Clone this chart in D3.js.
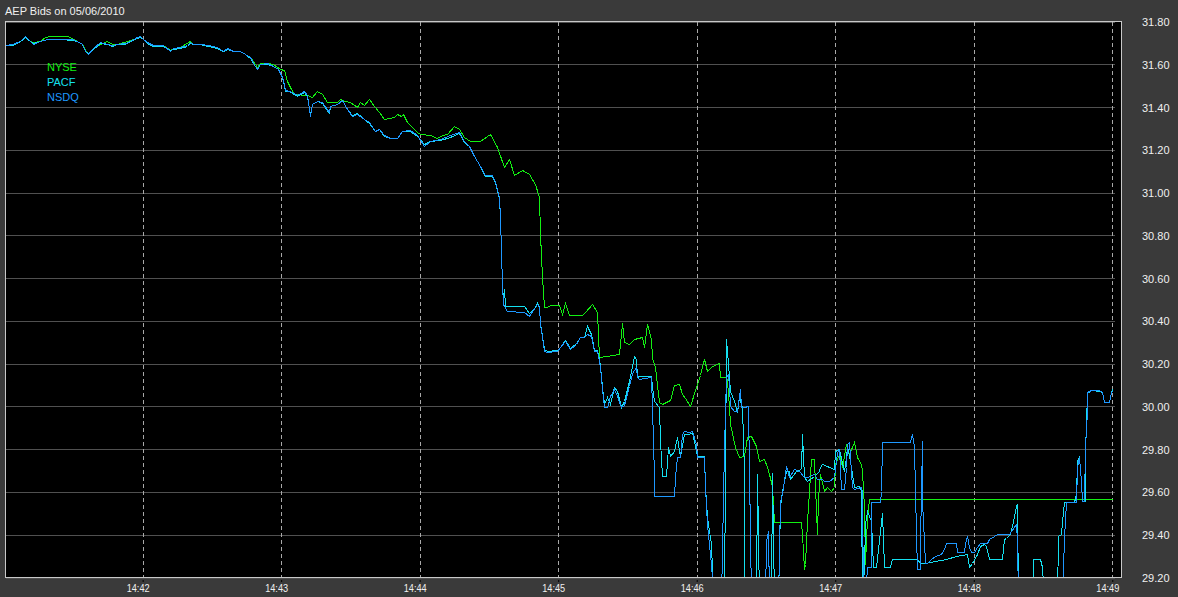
<!DOCTYPE html>
<html><head><meta charset="utf-8">
<script src="https://cdn.jsdelivr.net/npm/d3@7"></script>
<style>
html,body{margin:0;padding:0;background:#3a3a3a;}
svg{display:block;}
text{font-family:"Liberation Sans",Arial,sans-serif;}
</style></head><body>
<svg id="chart" width="1178" height="597"></svg>
<script>
// ---------------- data ----------------
const chartTitle = "AEP Bids on 05/06/2010";
const seriesNames = ["NYSE", "PACF", "NSDQ"];
const yTickValues = [29.2, 29.4, 29.6, 29.8, 30.0, 30.2, 30.4, 30.6, 30.8, 31.0, 31.2, 31.4, 31.6, 31.8];
const xTickLabels = ["14:42", "14:43", "14:44", "14:45", "14:46", "14:47", "14:48", "14:49"];
const xDomainLabels = ["14:41:00.6", "14:49:04"];
const yDomain = [29.2, 31.8];
// [seconds after 14:41:00, bid price]
const nyse = [
[0.9,31.692],[3.5,31.697],[7.0,31.711],[9.2,31.730],[11.4,31.711],[12.7,31.702],[15.7,31.711],[17.8,31.727],[20.0,31.730],[27.4,31.730],[29.6,31.725],[31.7,31.711],[33.9,31.697],[35.2,31.669],[36.5,31.655],[38.7,31.678],[41.7,31.696],[44.7,31.711],[46.9,31.697],[49.1,31.697],[53.4,31.711],[56.0,31.720],[59.0,31.730],[60.3,31.720],[62.1,31.706],[64.7,31.692],[69.0,31.688],[72.0,31.669],[73.3,31.674],[76.4,31.680],[80.7,31.711],[82.0,31.697],[85.0,31.696],[88.1,31.688],[92.4,31.680],[95.0,31.664],[96.7,31.674],[99.3,31.664],[102.3,31.664],[104.5,31.649],[106.7,31.636],[108.8,31.599],[109.7,31.585],[111.0,31.605],[114.0,31.608],[116.6,31.599],[119.7,31.579],
[121.1,31.571],[122.6,31.524],[124.0,31.493],[125.4,31.462],[131.2,31.454],[133.4,31.446],[135.6,31.474],[137.7,31.462],[139.9,31.422],[144.2,31.422],[145.7,31.438],[147.1,31.427],[150.0,31.422],[152.9,31.399],[154.3,31.422],[155.8,31.410],[157.9,31.438],[160.1,31.407],[162.3,31.376],[164.4,31.345],[168.7,31.352],[170.2,31.368],[171.7,31.356],[172.8,31.368],[174.6,31.329],[176.7,31.306],[178.9,31.282],[180.3,31.275],[184.6,31.271],[187.6,31.256],[189.7,31.267],[191.9,31.275],[194.7,31.313],[196.9,31.298],[199.1,31.259],[202.0,31.240],[206.3,31.239],[210.6,31.275],[213.5,31.212],[216.4,31.118],[218.6,31.158],[220.7,31.080],[224.4,31.106],[227.2,31.088],[230.1,31.041],[231.6,30.978],[232.3,30.807],[233.0,30.604],[233.7,30.463],[235.2,30.463],[236.6,30.475],[240.2,30.476],[241.7,30.432],[243.1,30.482],[244.6,30.429],[250.4,30.429],[251.8,30.440],[254.7,30.479],[256.9,30.440],[257.6,30.229],[261.2,30.237],[266.2,30.245],[267.7,30.390],[268.4,30.300],[270.6,30.292],[272.7,30.316],[276.4,30.323],[277.1,30.276],[278.5,30.386],[280.0,30.317],[280.7,30.226],[282.1,30.183],[283.6,30.019],[285.0,30.013],[288.6,30.032],[290.1,30.101],[292.2,30.105],[293.7,30.058],[295.1,30.041],[297.3,30.003],[299.5,30.092],[301.6,30.146],[303.1,30.222],[304.5,30.167],[306.7,30.191],[309.6,30.202],[310.3,30.136],[312.5,30.136],[313.2,30.120],[313.9,29.996],[314.6,29.918],[316.8,29.808],[318.2,29.762],[320.4,29.770],[321.9,29.855],[323.3,29.863],[325.5,29.816],[326.9,29.746],[329.1,29.754],[330.5,29.715],[331.2,29.684],[332.7,29.629],[333.4,29.458],[345.0,29.458],[345.7,29.403],[346.4,29.240],[347.1,29.263],[347.9,29.466],[348.6,29.606],[349.3,29.754],[350.7,29.754],[351.5,29.512],[351.9,29.403],[352.5,29.574],[353.6,29.684],[355.1,29.606],[356.5,29.621],[358.0,29.606],[359.4,29.621],[360.1,29.731],[361.6,29.778],[363.0,29.715],[364.5,29.824],[365.9,29.778],[368.1,29.832],[369.5,29.762],[371.0,29.731],[371.7,29.699],[372.4,29.528],[373.1,29.263],[373.9,29.481],[374.6,29.567],[479.9,29.567]
];
const pacf = [
[0.9,31.688],[3.5,31.692],[7.0,31.708],[9.2,31.727],[11.4,31.708],[12.7,31.699],[15.7,31.708],[18.7,31.718],[24.4,31.718],[29.6,31.713],[31.7,31.708],[33.9,31.694],[35.2,31.661],[36.5,31.652],[38.7,31.671],[41.7,31.699],[44.7,31.694],[46.9,31.685],[49.1,31.694],[52.5,31.696],[54.7,31.708],[57.7,31.725],[59.0,31.727],[60.3,31.718],[62.1,31.699],[64.7,31.685],[69.0,31.685],[72.0,31.666],[73.3,31.671],[76.4,31.678],[79.4,31.685],[80.7,31.699],[82.0,31.694],[85.0,31.694],[88.1,31.685],[92.4,31.678],[95.0,31.661],[96.7,31.671],[99.3,31.661],[102.3,31.661],[104.5,31.646],[106.7,31.630],[108.8,31.592],[109.7,31.576],[111.0,31.599],[114.0,31.602],[116.6,31.592],[118.8,31.576],
[120.4,31.535],[121.1,31.505],[121.8,31.477],[123.3,31.474],[124.7,31.466],[126.9,31.451],[129.8,31.472],[131.2,31.451],[132.7,31.365],[133.4,31.412],[135.6,31.427],[137.7,31.419],[140.6,31.372],[141.3,31.404],[144.2,31.412],[146.4,31.431],[148.6,31.389],[150.7,31.365],[152.9,31.372],[155.8,31.342],[157.9,31.326],[160.8,31.287],[162.3,31.295],[164.4,31.264],[167.3,31.253],[170.2,31.253],[172.4,31.287],[176.0,31.290],[178.9,31.264],[181.7,31.225],[184.6,31.240],[189.0,31.248],[193.3,31.262],[196.9,31.279],[199.1,31.237],[201.2,31.217],[203.4,31.170],[206.3,31.123],[208.5,31.077],[211.4,31.077],[212.8,31.045],[214.2,30.975],[215.0,30.880],[215.3,30.725],[215.7,30.570],[216.1,30.500],[216.4,30.549],[217.1,30.471],[225.1,30.471],[227.2,30.435],[228.0,30.443],[230.1,30.466],[230.9,30.482],[231.6,30.466],[232.3,30.390],[233.0,30.330],[233.7,30.268],[235.2,30.260],[239.5,30.266],[241.0,30.280],[243.1,30.310],[245.3,30.274],[247.5,30.296],[249.6,30.326],[251.1,30.326],[252.5,30.378],[254.0,30.340],[255.4,30.266],[256.9,30.266],[257.6,30.220],[258.3,30.190],[259.0,30.090],[259.7,30.010],[261.2,30.042],[262.6,30.012],[264.1,30.089],[265.5,30.074],[267.0,29.999],[268.4,30.027],[270.6,30.120],[272.0,30.191],[272.7,30.237],[273.5,30.222],[274.2,30.136],[274.9,30.144],[280.0,30.144],[280.7,30.089],[281.4,30.027],[283.6,29.996],[284.3,29.840],[285.0,29.676],[286.5,29.676],[287.5,29.808],[288.6,29.770],[290.1,29.793],[291.5,29.855],[292.2,29.793],[292.9,29.770],[294.4,29.872],[296.6,29.872],[298.0,29.882],[299.5,29.793],[300.2,29.770],[303.1,29.770],[303.8,29.621],[304.5,29.481],[306.0,29.356],[306.7,29.232],[307.4,29.10],[312.0,29.10],[312.5,30.316],[312.9,30.316],[313.5,30.199],[314.6,30.074],[316.1,30.027],[317.5,29.972],[318.2,30.042],[318.9,30.027],[319.7,29.996],[320.4,29.699],[320.7,29.10],[325.7,29.10],[326.2,29.684],[326.8,29.10],[332.2,29.10],[332.7,29.691],[333.3,29.10],[335.0,29.10],[335.9,29.536],[337.0,29.606],[338.5,29.699],[339.9,29.699],[340.6,29.662],[342.8,29.699],[345.0,29.709],[345.7,29.871],[346.4,29.668],[347.9,29.653],[350.7,29.676],[352.8,29.699],[353.6,29.715],[354.4,29.731],[359.4,29.707],[360.1,29.793],[361.6,29.801],[363.0,29.737],[363.8,29.699],[364.5,29.762],[365.2,29.816],[366.6,29.746],[368.1,29.621],[370.2,29.629],[371.3,29.606],[371.7,29.10],[372.4,29.247],[373.1,29.450],[373.9,29.511],[375.3,29.466],[376.2,29.247],[377.5,29.247],[379.6,29.419],[380.3,29.503],[381.1,29.247],[383.9,29.247],[384.7,29.286],[395.5,29.286],[396.9,29.270],[399.1,29.270],[403.4,29.278],[407.8,29.286],[412.1,29.302],[417.2,29.310],[417.9,29.247],[419.3,29.270],[421.5,29.310],[422.9,29.349],[424.4,29.357],[425.5,29.349],[426.5,29.286],[432.3,29.286],[433.0,29.380],[433.8,29.387],[435.9,29.403],[437.1,29.466],[438.1,29.536],[438.8,29.542],[439.2,29.10],[445.3,29.10],[445.8,29.286],[448.9,29.286],[449.7,29.247],[450.4,29.10],[456.2,29.10],[456.4,29.395],[457.6,29.403],[458.3,29.466],[459.0,29.551],[463.4,29.551],[464.1,29.590],[464.8,29.746],[465.5,29.762],[466.3,29.653],[467.1,29.559],[468.0,29.559],[468.4,29.793],[469.2,30.064],[470.6,30.077],[474.9,30.074],[475.7,30.066],[476.4,30.019],[478.5,30.019],[479.3,30.066],[479.7,30.083]
];
const nsdq = [
[0.9,31.692],[3.5,31.697],[7.0,31.711],[9.2,31.730],[11.4,31.711],[12.7,31.697],[15.7,31.711],[18.7,31.720],[24.4,31.720],[29.6,31.716],[31.7,31.711],[33.9,31.697],[35.2,31.664],[36.5,31.650],[38.7,31.674],[41.7,31.703],[44.7,31.696],[46.9,31.688],[49.1,31.696],[52.5,31.698],[54.7,31.711],[57.7,31.727],[59.0,31.730],[60.3,31.720],[62.1,31.703],[64.7,31.688],[69.0,31.688],[72.0,31.664],[73.3,31.674],[76.4,31.680],[79.4,31.688],[80.7,31.703],[82.0,31.696],[85.0,31.696],[88.1,31.688],[92.4,31.680],[95.0,31.664],[96.7,31.674],[99.3,31.664],[102.3,31.664],[104.5,31.649],[106.7,31.633],[108.8,31.594],[109.7,31.579],[111.0,31.602],[114.0,31.605],[116.6,31.594],[118.8,31.579],
[120.4,31.539],[121.1,31.509],[121.8,31.480],[123.3,31.477],[124.7,31.469],[126.9,31.454],[129.8,31.474],[131.2,31.454],[132.7,31.360],[133.4,31.415],[135.6,31.430],[137.7,31.422],[140.6,31.376],[141.3,31.407],[144.2,31.415],[146.4,31.434],[148.6,31.392],[150.7,31.360],[152.9,31.368],[155.8,31.345],[157.9,31.329],[160.8,31.290],[162.3,31.298],[164.4,31.267],[167.3,31.256],[170.2,31.256],[172.4,31.290],[176.0,31.293],[178.9,31.267],[181.7,31.220],[184.6,31.243],[189.0,31.251],[193.3,31.267],[196.9,31.282],[199.1,31.243],[201.2,31.220],[203.4,31.173],[206.3,31.126],[208.5,31.080],[211.4,31.080],[212.8,31.048],[214.2,30.978],[215.0,30.884],[215.3,30.729],[215.7,30.573],[216.1,30.479],
[217.9,30.448],[225.1,30.443],[227.2,30.425],[228.0,30.432],[230.1,30.463],[230.9,30.479],[231.6,30.463],[232.3,30.386],[233.0,30.323],[233.7,30.261],[235.2,30.253],[239.5,30.261],[241.0,30.276],[243.1,30.308],[245.3,30.269],[247.5,30.292],[249.6,30.323],[251.1,30.323],[252.5,30.340],[254.0,30.331],[255.4,30.261],[256.9,30.261],[257.6,30.214],[258.3,30.183],[259.0,30.082],[259.7,29.999],[261.2,29.999],[262.6,30.050],[264.1,30.083],[265.5,30.050],[267.0,29.999],[268.4,30.008],[270.6,30.097],[272.0,30.158],[273.5,30.183],[274.2,30.136],[274.9,30.128],[280.0,30.136],[280.7,29.996],[281.4,29.668],[281.7,29.582],[290.1,29.582],[290.8,29.668],[291.5,29.762],[292.9,29.765],[293.7,29.871],[294.4,29.887],[296.6,29.879],[298.0,29.887],[299.5,29.824],[300.2,29.762],[303.1,29.762],[303.8,29.621],[304.5,29.450],[306.0,29.263],[306.7,29.194],[307.5,29.10],[310.7,29.10],[311.7,29.808],[312.5,30.136],[313.5,30.152],[313.9,30.089],[314.6,30.003],[316.1,29.980],[317.5,29.980],[318.7,30.082],[319.3,29.996],[320.4,29.996],[322.1,30.003],[322.6,29.699],[323.3,29.10],[329.4,29.10],[329.8,29.372],[330.7,29.419],[331.5,29.10],[335.4,29.10],[335.9,29.559],[337.0,29.590],[338.5,29.723],[339.9,29.668],[342.1,29.707],[344.2,29.699],[346.4,29.668],[347.9,29.668],[350.7,29.684],[352.2,29.661],[354.4,29.662],[355.1,29.653],[357.2,29.653],[359.4,29.668],[360.9,29.785],[361.6,29.801],[362.3,29.614],[363.8,29.614],[364.5,29.715],[365.2,29.824],[365.9,29.832],[366.6,29.762],[367.4,29.621],[368.1,29.614],[371.0,29.621],[371.7,29.606],[372.1,29.10],[373.1,29.10],[373.9,29.247],[375.3,29.247],[375.6,29.551],[379.6,29.551],[379.9,29.606],[380.3,29.832],[392.6,29.832],[393.3,29.871],[394.0,29.808],[394.8,29.403],[395.5,29.240],[396.6,29.240],[396.9,29.372],[397.4,29.840],[397.8,29.559],[398.4,29.372],[398.7,29.270],[399.9,29.270],[401.3,29.286],[403.4,29.302],[405.6,29.310],[407.0,29.333],[407.8,29.362],[412.1,29.362],[412.9,29.317],[415.7,29.317],[416.4,29.362],[417.2,29.395],[417.9,29.341],[418.6,29.317],[420.0,29.317],[421.5,29.341],[422.9,29.362],[425.8,29.362],[426.5,29.380],[428.7,29.395],[430.2,29.403],[435.2,29.403],[436.2,29.419],[438.1,29.450],[438.8,29.372],[439.1,29.10],[458.3,29.10],[459.0,29.387],[459.8,29.551],[464.1,29.551],[464.8,29.715],[465.5,29.762],[466.3,29.653],[467.0,29.559],[467.7,29.559],[468.4,29.808],[468.9,29.980],[469.2,30.066],[470.6,30.077],[474.2,30.077],[475.7,30.066],[476.4,30.019],[478.5,30.019],[479.3,30.066],[479.7,30.074]
];

// ---------------- drawing ----------------
const colors = {NYSE: "#12f012", PACF: "#14e0f0", NSDQ: "#1e98ff"};
const baseDay = [2010, 4, 6];
function atSec(s) { return new Date(baseDay[0], baseDay[1], baseDay[2], 14, 41, 0, Math.round(s * 1000)); }
function parseClock(str) {
  const p = str.split(":");
  const sec = p.length > 2 ? parseFloat(p[2]) : 0;
  return new Date(baseDay[0], baseDay[1], baseDay[2], +p[0], +p[1], 0, Math.round(sec * 1000));
}
const snap = v => Math.round(v) + 0.5;

const plot = {left: 5.5, top: 21.5, right: 1121.5, bottom: 577.5};
const svg = d3.select("#chart");

const x = d3.scaleTime().domain(xDomainLabels.map(parseClock)).range([plot.left, plot.right]);
const y = d3.scaleLinear().domain(yDomain).range([plot.bottom, plot.top]);

svg.append("rect").attr("x", 0).attr("y", 0).attr("width", 1178).attr("height", 597).attr("fill", "#3a3a3a");
svg.append("rect").attr("x", plot.left).attr("y", plot.top)
  .attr("width", plot.right - plot.left).attr("height", plot.bottom - plot.top).attr("fill", "#000");

// title
svg.append("text").attr("x", 5).attr("y", 15).attr("fill", "#f0f0f0")
  .style("font-size", "11px").text(chartTitle);

// horizontal grid
svg.append("g").selectAll("line").data(yTickValues).join("line")
  .attr("x1", plot.left).attr("x2", 1115)
  .attr("y1", d => snap(y(d))).attr("y2", d => snap(y(d)))
  .attr("stroke", "#505050").attr("stroke-width", 1).attr("shape-rendering", "crispEdges");

// vertical dashed grid
const xTicks = xTickLabels.map(parseClock);
svg.append("g").selectAll("line").data(xTicks).join("line")
  .attr("x1", d => snap(x(d))).attr("x2", d => snap(x(d)))
  .attr("y1", plot.top).attr("y2", plot.bottom)
  .attr("stroke", "#a8a8a8").attr("stroke-width", 1).attr("stroke-dasharray", "4,3")
  .attr("shape-rendering", "crispEdges");

// series
svg.append("clipPath").attr("id", "clip").append("rect")
  .attr("x", plot.left).attr("y", plot.top).attr("width", plot.right - plot.left).attr("height", plot.bottom - plot.top);
const line = d3.line().x(d => snap(x(atSec(d[0])))).y(d => snap(y(d[1])));
const seriesData = {NYSE: nyse, PACF: pacf, NSDQ: nsdq};
const lg = svg.append("g").attr("clip-path", "url(#clip)");
seriesNames.forEach(name => {
  lg.append("path").datum(seriesData[name]).attr("d", line)
    .attr("fill", "none").attr("stroke", colors[name]).attr("stroke-width", 1)
    .attr("stroke-linejoin", "miter").attr("shape-rendering", "crispEdges");
});

// legend
seriesNames.forEach((name, i) => {
  svg.append("text").attr("x", 47).attr("y", 71 + i * 15).attr("fill", colors[name])
    .style("font-size", "11px").text(name);
});

// border
svg.append("rect").attr("x", plot.left).attr("y", plot.top)
  .attr("width", plot.right - plot.left).attr("height", plot.bottom - plot.top)
  .attr("fill", "none").attr("stroke", "#c8c8c8").attr("stroke-width", 1).attr("shape-rendering", "crispEdges");

// x axis
const xAxis = d3.axisBottom(x).tickValues(xTicks).tickFormat(d3.timeFormat("%H:%M")).tickSize(0).tickPadding(0);
const xg = svg.append("g").attr("transform", `translate(0,${plot.bottom})`).call(xAxis);
xg.select(".domain").remove();
xg.selectAll(".tick text").attr("fill", "#f0f0f0").attr("dx", -5).attr("dy", 0).attr("y", 14)
  .style("font-size", "11px").attr("textLength", 23).attr("lengthAdjust", "spacingAndGlyphs")
  .style("font-family", "'Liberation Sans', Arial, sans-serif");
xg.selectAll(".tick").append("rect").attr("x", -0.5).attr("y", 2.5).attr("width", 1).attr("height", 2).attr("fill", "#000");

// y axis
const yAxis = d3.axisRight(y).tickValues(yTickValues).tickFormat(d3.format(".2f")).tickSize(0).tickPadding(0);
const yg = svg.append("g").attr("transform", `translate(${plot.right},0)`).call(yAxis);
yg.select(".domain").remove();
yg.selectAll(".tick text").attr("fill", "#f0f0f0").attr("x", 48).attr("text-anchor", "end")
  .attr("dy", "0.36em").style("font-size", "11px")
  .style("font-family", "'Liberation Sans', Arial, sans-serif");
</script>
</body></html>
